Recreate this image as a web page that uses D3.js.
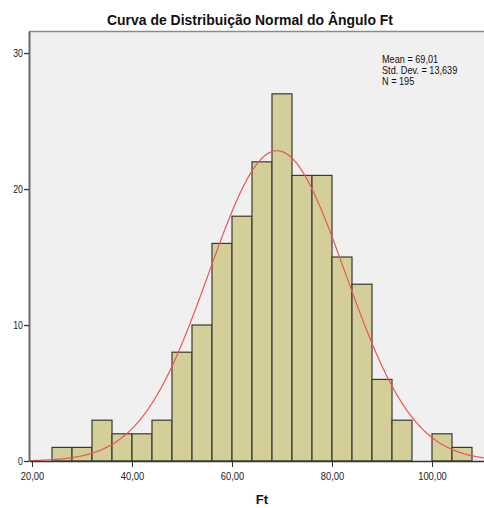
<!DOCTYPE html>
<html>
<head>
<meta charset="utf-8">
<script src="https://cdn.jsdelivr.net/npm/d3@7"></script>
<style>
  body { margin: 0; background: #fff; }
  svg { font-family: "Liberation Sans", Arial, sans-serif; }
</style>
</head>
<body>
<div id="chart"></div>
<script>
// histogram bins (lower edge) and counts
let binStarts = [24, 28, 32, 36, 40, 44, 48, 52, 56, 60, 64, 68, 72, 76, 80, 84, 88, 92, 96, 100, 104];
let counts    = [1, 1, 3, 2, 2, 3, 8, 10, 16, 18, 22, 27, 21, 21, 15, 13, 6, 3, 0, 2, 1];
let binWidth = 4;
let xTicks = [20, 40, 60, 80, 100];
let yTicks = [0, 10, 20, 30];
let stats = {mean: 69.01, sd: 13.639, n: 195};
let statLabels = ["Mean = 69,01", "Std. Dev. = 13,639", "N = 195"];

let W = 484, H = 508;
let plotLeft = 29, plotTop = 31, plotRight = 490, plotBottom = 461;

let svg = d3.select("#chart").append("svg")
    .attr("width", W).attr("height", H);

let x = d3.scaleLinear().domain([19.4, 111.6]).range([plotLeft, plotRight]);
let y = d3.scaleLinear().domain([0, 31.62]).range([plotBottom, plotTop]);

// the original uses a narrow sans, squeeze text a bit
function condense(sel, factor) {
    sel.each(function() {
        let w = this.getComputedTextLength();
        d3.select(this).attr("textLength", w * factor).attr("lengthAdjust", "spacingAndGlyphs");
    });
}

// plot background
svg.append("rect")
    .attr("x", plotLeft).attr("y", plotTop)
    .attr("width", plotRight - plotLeft).attr("height", plotBottom - plotTop)
    .attr("fill", "#f0f0f0");

// top frame line
svg.append("line").attr("x1", plotLeft).attr("x2", plotRight).attr("y1", plotTop + 0.5).attr("y2", plotTop + 0.5)
    .attr("stroke", "#8a8a8a").attr("stroke-width", 1.5);

// bars
let bars = binStarts.map((b, i) => ({x0: b, x1: b + binWidth, c: counts[i]})).filter(d => d.c > 0);
svg.append("g").selectAll("rect")
    .data(bars)
    .enter().append("rect")
    .attr("x", d => x(d.x0))
    .attr("y", d => y(d.c))
    .attr("width", d => x(d.x1) - x(d.x0))
    .attr("height", d => y(0) - y(d.c))
    .attr("fill", "#d4cf99")
    .attr("stroke", "#3a3a30")
    .attr("stroke-width", 1.2);

// normal curve
let peakScale = stats.n * binWidth / (stats.sd * Math.sqrt(2 * Math.PI));
let curveX = d3.range(19.4, 111.7, 0.2);
let line = d3.line()
    .x(d => x(d))
    .y(d => y(peakScale * Math.exp(-0.5 * Math.pow((d - stats.mean) / stats.sd, 2))));
svg.append("path")
    .datum(curveX)
    .attr("d", line)
    .attr("fill", "none")
    .attr("stroke", "#ee5555")
    .attr("stroke-width", 1.2);

// x axis
let xAxis = svg.append("g")
    .attr("transform", `translate(0,${plotBottom})`)
    .call(d3.axisBottom(x).tickValues(xTicks).tickSize(6).tickSizeOuter(0)
        .tickFormat(d => d3.format(".2f")(d).replace(".", ",")));
xAxis.select(".domain").attr("stroke", "#333").attr("stroke-width", 1.3);
xAxis.selectAll(".tick line").attr("stroke", "#333");
xAxis.selectAll("text").attr("font-size", 11).attr("fill", "#222").attr("dy", "0.88em")
    .call(condense, 0.85);

// y axis
let yAxis = svg.append("g")
    .attr("transform", `translate(${plotLeft},0)`)
    .call(d3.axisLeft(y).tickValues(yTicks).tickSize(5).tickSizeOuter(0));
yAxis.select(".domain").attr("stroke", "#6a6a6a").attr("stroke-width", 2);
yAxis.selectAll(".tick line").attr("stroke", "#333").attr("stroke-width", 1.3);
yAxis.selectAll("text").attr("font-size", 11).attr("fill", "#222").attr("x", -6)
    .call(condense, 0.8);

// title
svg.append("text")
    .attr("x", 250).attr("y", 25)
    .attr("text-anchor", "middle")
    .attr("font-size", 15).attr("font-weight", "bold").attr("fill", "#111")
    .text("Curva de Distribuição Normal do Ângulo Ft")
    .call(condense, 0.93);

// x label
svg.append("text")
    .attr("x", 262).attr("y", 504)
    .attr("text-anchor", "middle")
    .attr("font-size", 13).attr("font-weight", "bold").attr("fill", "#111")
    .text("Ft");

// stats box
svg.append("g").selectAll("text")
    .data(statLabels)
    .enter().append("text")
    .attr("x", 382)
    .attr("y", (d, i) => 63 + i * 11)
    .attr("font-size", 10.5).attr("fill", "#111")
    .text(d => d)
    .call(condense, 0.87);
</script>
</body>
</html>
